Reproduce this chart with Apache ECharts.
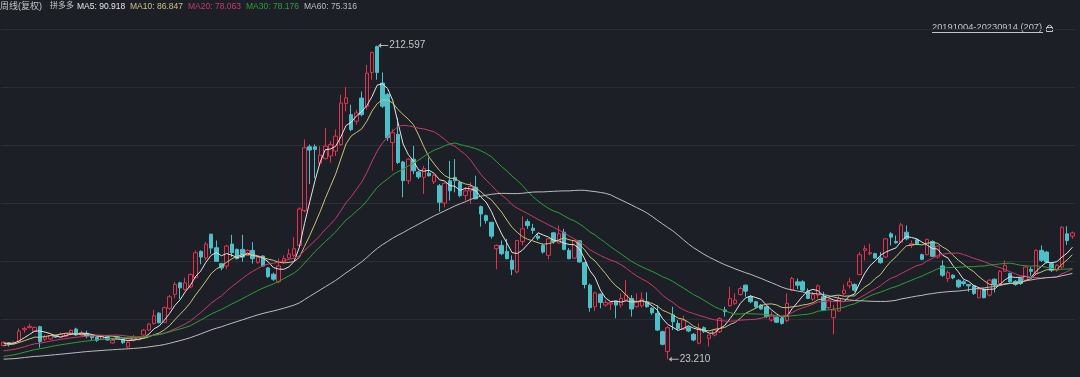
<!DOCTYPE html>
<html>
<head>
<meta charset="utf-8">
<title>拼多多 周线</title>
<script src="https://cdn.jsdelivr.net/npm/echarts@6/dist/echarts.min.js"></script>
<style>
html, body { margin: 0; padding: 0; background: #1c1f26; }
#main { width: 1080px; height: 377px; }
</style>
</head>
<body>
<div id="main"></div>
<script>
// weekly candles, 20191004 - 20230914 (207 weeks)
var startDate = '2019-10-04';

var opens = [
	31.4, 33.0, 32.6, 33.8, 41.0, 42.3, 40.0, 42.8, 35.2, 35.4,
	37.4, 36.6, 37.0, 38.2, 41.4, 37.8, 38.8, 37.2, 36.4, 35.2,
	36.8, 33.0, 36.6, 35.2, 30.6, 34.6, 35.0, 37.8, 40.8, 44.8,
	51.0, 45.4, 53.9, 62.3, 69.3, 65.3, 66.9, 72.5, 88.3, 84.3,
	98.7, 90.5, 80.9, 79.5, 92.7, 89.5, 89.5, 85.9, 88.9, 81.5,
	85.5, 78.3, 74.5, 70.0, 81.9, 84.3, 85.9, 91.9, 112.9, 151.5,
	151.5, 141.5, 144.3, 145.9, 148.9, 152.9, 177.6, 170.9, 166.9, 180.9,
	175.9, 196.4, 212.0, 190.0, 183.0, 154.0, 159.0, 142.3, 131.0, 144.0,
	136.3, 133.0, 135.5, 130.3, 128.0, 117.5, 131.0, 133.0, 130.0, 122.0,
	124.9, 127.0, 115.3, 109.9, 105.9, 89.9, 91.9, 88.3, 82.9, 75.9,
	94.3, 106.3, 102.3, 97.5, 91.9, 85.9, 99.5, 93.3, 99.9, 88.9,
	84.3, 94.7, 81.5, 67.9, 54.9, 62.5, 55.9, 56.5, 58.3, 55.9,
	58.9, 59.9, 54.9, 55.5, 57.9, 54.0, 50.9, 39.8, 27.8, 49.9,
	44.8, 41.4, 42.2, 38.2, 32.8, 42.2, 35.8, 37.8, 39.8, 52.9,
	55.5, 56.9, 62.3, 67.9, 60.9, 57.9, 55.9, 54.9, 46.8, 48.3,
	47.9, 46.5, 64.9, 69.9, 69.9, 64.3, 59.5, 61.9, 60.9, 54.3,
	48.3, 52.3, 62.9, 67.5, 68.3, 74.3, 88.9, 86.9, 86.9, 84.3,
	84.9, 98.9, 94.3, 93.9, 99.9, 91.9, 95.3, 86.3, 86.3, 94.3,
	84.9, 79.5, 71.9, 73.9, 70.9, 69.9, 68.3, 67.5, 60.3, 65.5,
	61.9, 71.5, 68.9, 76.3, 74.9, 70.3, 71.9, 70.9, 77.5, 74.9,
	88.9, 87.9, 80.9, 76.9, 78.9, 98.9, 97.5
];
var closes = [
	33.4, 32.2, 33.4, 40.2, 41.8, 43.0, 42.4, 33.8, 36.6, 37.4,
	36.6, 38.2, 38.6, 40.6, 37.8, 39.2, 37.2, 36.2, 34.6, 36.8,
	34.8, 34.6, 35.8, 33.2, 33.4, 36.6, 36.6, 40.8, 44.4, 49.4,
	45.2, 54.3, 60.9, 68.3, 66.3, 69.3, 74.3, 87.5, 84.9, 92.7,
	90.3, 82.3, 78.3, 91.5, 87.5, 83.9, 84.9, 88.9, 83.9, 84.7,
	79.5, 73.0, 71.5, 79.5, 83.9, 86.7, 89.9, 113.9, 150.9, 149.5,
	149.9, 146.4, 151.9, 152.9, 157.9, 177.9, 181.0, 161.9, 171.9, 170.9,
	195.9, 208.4, 196.4, 176.0, 157.0, 160.0, 142.0, 131.0, 144.0, 137.0,
	133.3, 138.3, 134.0, 134.3, 118.0, 129.5, 124.9, 131.0, 122.0, 124.9,
	127.5, 120.0, 110.9, 106.9, 97.5, 91.9, 86.9, 83.9, 77.5, 94.9,
	101.9, 103.9, 100.9, 96.3, 87.9, 95.9, 94.3, 98.9, 89.5, 83.9,
	94.9, 81.9, 68.3, 54.3, 63.3, 57.5, 57.5, 57.3, 55.9, 59.9,
	61.9, 53.5, 57.9, 59.5, 54.9, 51.2, 40.8, 32.2, 42.2, 45.8,
	41.8, 46.8, 40.2, 34.8, 41.8, 39.8, 37.8, 40.8, 47.8, 51.9,
	59.9, 58.9, 65.9, 64.3, 57.9, 54.9, 53.5, 48.9, 49.9, 45.5,
	44.8, 56.9, 71.9, 67.9, 64.9, 59.9, 62.3, 67.5, 52.9, 58.9,
	52.9, 59.9, 64.9, 69.9, 64.9, 86.3, 89.9, 87.5, 84.3, 81.5,
	95.9, 96.9, 93.5, 104.3, 95.9, 92.9, 92.9, 83.5, 95.5, 85.3,
	91.5, 73.9, 75.5, 72.3, 66.9, 68.9, 67.5, 62.9, 65.5, 60.3,
	70.9, 68.3, 76.3, 79.9, 69.9, 68.3, 68.9, 78.9, 76.3, 88.9,
	82.9, 81.9, 76.9, 79.9, 102.9, 94.9, 99.5
];
var lows = [
	31.0, 30.8, 32.2, 33.4, 39.2, 41.8, 39.6, 30.2, 34.0, 35.0,
	36.0, 36.0, 36.4, 37.6, 37.4, 37.2, 35.8, 34.8, 33.6, 34.6,
	34.4, 32.6, 35.4, 32.4, 29.8, 33.8, 34.6, 37.4, 40.4, 44.0,
	44.8, 45.0, 53.0, 60.0, 59.5, 64.5, 66.0, 72.0, 80.5, 82.9,
	86.9, 82.0, 76.9, 77.5, 85.0, 83.5, 82.0, 85.5, 80.9, 81.0,
	79.0, 72.3, 70.5, 69.0, 80.9, 83.9, 84.9, 90.9, 111.9, 128.9,
	132.5, 139.9, 143.9, 141.9, 145.9, 151.9, 172.9, 160.9, 164.9, 169.9,
	173.9, 191.9, 192.0, 175.0, 155.0, 137.0, 141.0, 121.0, 129.0, 135.0,
	132.0, 123.0, 133.5, 129.0, 112.3, 114.9, 119.0, 124.0, 121.0, 119.0,
	117.0, 120.0, 103.3, 105.0, 96.0, 77.5, 86.0, 83.5, 73.9, 75.0,
	91.9, 101.9, 98.9, 95.0, 87.0, 83.5, 92.9, 92.9, 88.9, 83.5,
	83.9, 81.5, 65.9, 51.9, 52.3, 53.9, 54.9, 52.9, 47.9, 54.3,
	58.3, 48.9, 54.3, 54.3, 54.3, 50.0, 40.2, 31.5, 23.21, 40.8,
	40.8, 40.8, 39.5, 34.0, 32.2, 39.0, 30.8, 37.0, 39.0, 48.9,
	54.9, 55.9, 61.5, 60.9, 57.0, 54.0, 53.0, 48.0, 45.8, 45.0,
	44.0, 45.5, 64.3, 65.5, 63.9, 59.9, 58.3, 59.9, 52.3, 53.5,
	38.2, 51.9, 61.9, 65.9, 64.0, 73.9, 82.9, 85.9, 84.0, 80.9,
	84.3, 91.9, 92.9, 93.5, 95.0, 90.3, 92.0, 83.0, 85.9, 84.9,
	84.0, 72.9, 69.9, 71.5, 66.0, 67.5, 63.9, 62.0, 59.9, 60.0,
	61.0, 63.5, 68.0, 75.9, 69.0, 67.5, 68.0, 70.0, 73.5, 74.0,
	81.9, 81.0, 75.9, 76.0, 78.0, 92.3, 95.9
];
var highs = [
	34.0, 33.4, 34.0, 41.8, 42.8, 44.6, 42.8, 43.4, 37.8, 38.0,
	38.0, 39.4, 39.2, 41.2, 42.2, 40.4, 40.4, 37.6, 36.8, 37.6,
	37.2, 35.2, 37.0, 35.6, 34.0, 37.8, 37.2, 41.4, 45.0, 52.9,
	51.6, 55.0, 62.0, 69.9, 70.0, 72.5, 75.0, 88.9, 88.9, 93.9,
	99.0, 94.9, 81.0, 92.3, 98.3, 90.0, 98.3, 89.5, 93.9, 85.5,
	86.0, 78.8, 75.5, 84.0, 85.9, 89.9, 96.9, 114.9, 155.9, 152.9,
	152.9, 151.9, 162.9, 154.9, 161.9, 182.9, 187.6, 176.9, 173.9, 184.9,
	200.9, 209.0, 212.597, 196.4, 184.0, 162.0, 169.0, 143.0, 144.5, 152.0,
	137.0, 140.0, 145.0, 135.0, 129.0, 130.0, 143.0, 144.0, 131.0, 127.0,
	130.0, 134.0, 116.0, 110.5, 106.0, 92.5, 94.9, 95.9, 85.9, 95.0,
	109.5, 107.9, 104.9, 99.0, 93.0, 96.3, 99.9, 103.9, 101.9, 90.3,
	95.3, 95.0, 81.9, 68.9, 63.9, 62.9, 58.9, 57.9, 58.3, 62.9,
	70.9, 61.9, 62.9, 63.5, 63.5, 54.5, 55.9, 40.5, 43.4, 54.9,
	46.8, 49.5, 43.0, 39.0, 44.8, 43.0, 37.8, 41.5, 48.5, 54.9,
	66.9, 62.9, 67.0, 68.3, 62.0, 58.5, 56.5, 55.5, 51.9, 49.0,
	48.5, 63.0, 72.9, 71.9, 70.9, 65.9, 63.9, 68.3, 63.9, 59.5,
	55.9, 61.9, 68.3, 72.3, 69.0, 87.9, 91.9, 92.9, 87.5, 87.9,
	96.3, 99.9, 97.9, 105.5, 104.0, 94.9, 96.0, 87.0, 96.0, 95.0,
	92.0, 82.9, 76.9, 74.5, 71.5, 70.9, 68.5, 68.0, 65.9, 66.0,
	71.5, 71.9, 77.0, 82.9, 75.5, 71.0, 72.5, 79.5, 78.9, 89.5,
	91.9, 88.5, 81.9, 80.5, 103.5, 103.5, 100.3
];
// closes of the 59 weeks before the window, only used to warm up the moving averages
var priorCloses = [
	22.8, 24.1, 21.4, 20.7, 21.9, 23.2, 22.0, 20.3, 18.9, 19.2,
	20.1, 21.6, 20.8, 19.5, 18.7, 19.4, 21.1, 21.7, 22.2, 21.9,
	22.7, 23.4, 22.5, 22.1, 22.9, 23.6, 22.2, 21.0, 21.2, 21.7,
	19.2, 18.6, 18.1, 17.8, 18.4, 18.9, 18.2, 17.9, 18.3, 17.6,
	23.1, 24.6, 25.3, 24.9, 24.2, 25.4, 25.8, 24.7, 25.1, 25.9,
	27.6, 29.8, 30.6, 31.2, 31.8, 32.1, 33.5, 32.9, 32.1
];
var maPeriods = [5, 10, 20, 30, 60];
var maColors = ['#e4e4e4', '#c9c47c', '#c93a6b', '#2e9e3c', '#bdbdbd'];
var maLast = ['90.918', '86.847', '78.063', '78.176', '75.316'];

var UP = '#e0334f';
var DOWN = '#4cbfc8';
var TXT = '#c6c6c6';

function weekDates() {
	var out = [];
	var d = new Date(startDate + 'T00:00:00Z');
	for (var i = 0; i < closes.length; i++) {
		out.push(d.toISOString().slice(0, 10).replace(/-/g, ''));
		d = new Date(d.getTime() + 7 * 86400000);
	}
	return out;
}

function calcMA(n) {
	var all = priorCloses.concat(closes);
	var off = priorCloses.length;
	var res = [];
	for (var i = 0; i < closes.length; i++) {
		var sum = 0;
		for (var j = 0; j < n; j++) {
			sum += all[off + i - j];
		}
		res.push(+(sum / n).toFixed(3));
	}
	return res;
}

var kData = opens.map(function(o, i) {
	return [o, closes[i], lows[i], highs[i]];
});

var series = [{
	name : 'K',
	type : 'candlestick',
	data : kData,
	barWidth : 4,
	itemStyle : {
		color : 'rgba(0,0,0,0)',
		color0 : DOWN,
		borderColor : UP,
		borderColor0 : DOWN,
		borderWidth : 1
	},
	markPoint : {
		symbol : 'path://M0,2.5L3,0L3,2L10,2L10,3L3,3L3,5Z',
		symbolSize : [10, 5],
		symbolOffset : [6, 0],
		itemStyle : {
			color : '#b5b5b5'
		},
		label : {
			show : true,
			position : 'right',
			distance : 1,
			color : TXT,
			fontSize : 10,
			fontFamily : 'Arial, "Liberation Sans", sans-serif',
			formatter : function(p) {
				return Number(p.value).toFixed(3);
			}
		},
		data : [ {
			type : 'max',
			valueDim : 'highest'
		}, {
			type : 'min',
			valueDim : 'lowest'
		} ]
	}
}];

maPeriods.forEach(function(n, k) {
	series.push({
		name : 'MA' + n,
		type : 'line',
		data : calcMA(n),
		symbol : 'none',
		silent : true,
		lineStyle : {
			color : maColors[k],
			width : 1
		}
	});
});

var headFont = 'Arial, "Liberation Sans", "Noto Sans CJK SC", sans-serif';
var headParts = [
	{ x : 0, text : '周线(复权)', color : TXT, size : 9 },
	{ x : 50, text : '拼多多', color : TXT, size : 8 }
];
var headX = [77, 130, 188, 246, 304];
maPeriods.forEach(function(n, k) {
	headParts.push({ x : headX[k], text : 'MA' + n + ': ' + maLast[k], color : maColors[k], size : 8.5 });
});

var graphics = headParts.map(function(p) {
	return {
		type : 'text',
		left : p.x,
		top : 2,
		style : {
			text : p.text,
			fill : p.color,
			font : p.size + 'px ' + headFont
		}
	};
});

graphics.push({
	type : 'text',
	left : 932,
	top : 23,
	style : {
		text : '20191004-20230914 (207)',
		fill : TXT,
		font : '9.3px ' + headFont
	}
}, {
	type : 'line',
	shape : { x1 : 932, y1 : 32.5, x2 : 1043, y2 : 32.5 },
	style : { stroke : TXT, lineWidth : 1 }
}, {
	type : 'rect',
	shape : { x : 1046.5, y : 27.5, width : 6, height : 4 },
	style : { stroke : TXT, fill : 'none', lineWidth : 1 }
}, {
	type : 'arc',
	shape : { cx : 1049.5, cy : 27.5, r : 2.2, startAngle : Math.PI, endAngle : Math.PI * 2 },
	style : { stroke : TXT, fill : 'none', lineWidth : 1 }
});

var option = {
	backgroundColor : '#1c1f26',
	animation : false,
	grid : {
		left : 1,
		right : 5,
		top : 29,
		height : 350
	},
	xAxis : {
		type : 'category',
		data : weekDates(),
		boundaryGap : true,
		show : false
	},
	yAxis : [ {
		type : 'value',
		min : 12.43,
		max : 222.63,
		show : false,
		splitLine : { show : false }
	}, {
		// only used for the horizontal grid lines
		type : 'value',
		min : 0,
		max : 6,
		interval : 1,
		axisLabel : { show : false },
		axisTick : { show : false },
		axisLine : { show : false },
		splitLine : {
			show : true,
			lineStyle : { color : '#2b2e35', width : 1 }
		}
	} ],
	series : series,
	graphic : graphics
};

var chart = echarts.init(document.getElementById('main'));
chart.setOption(option);
</script>
</body>
</html>
